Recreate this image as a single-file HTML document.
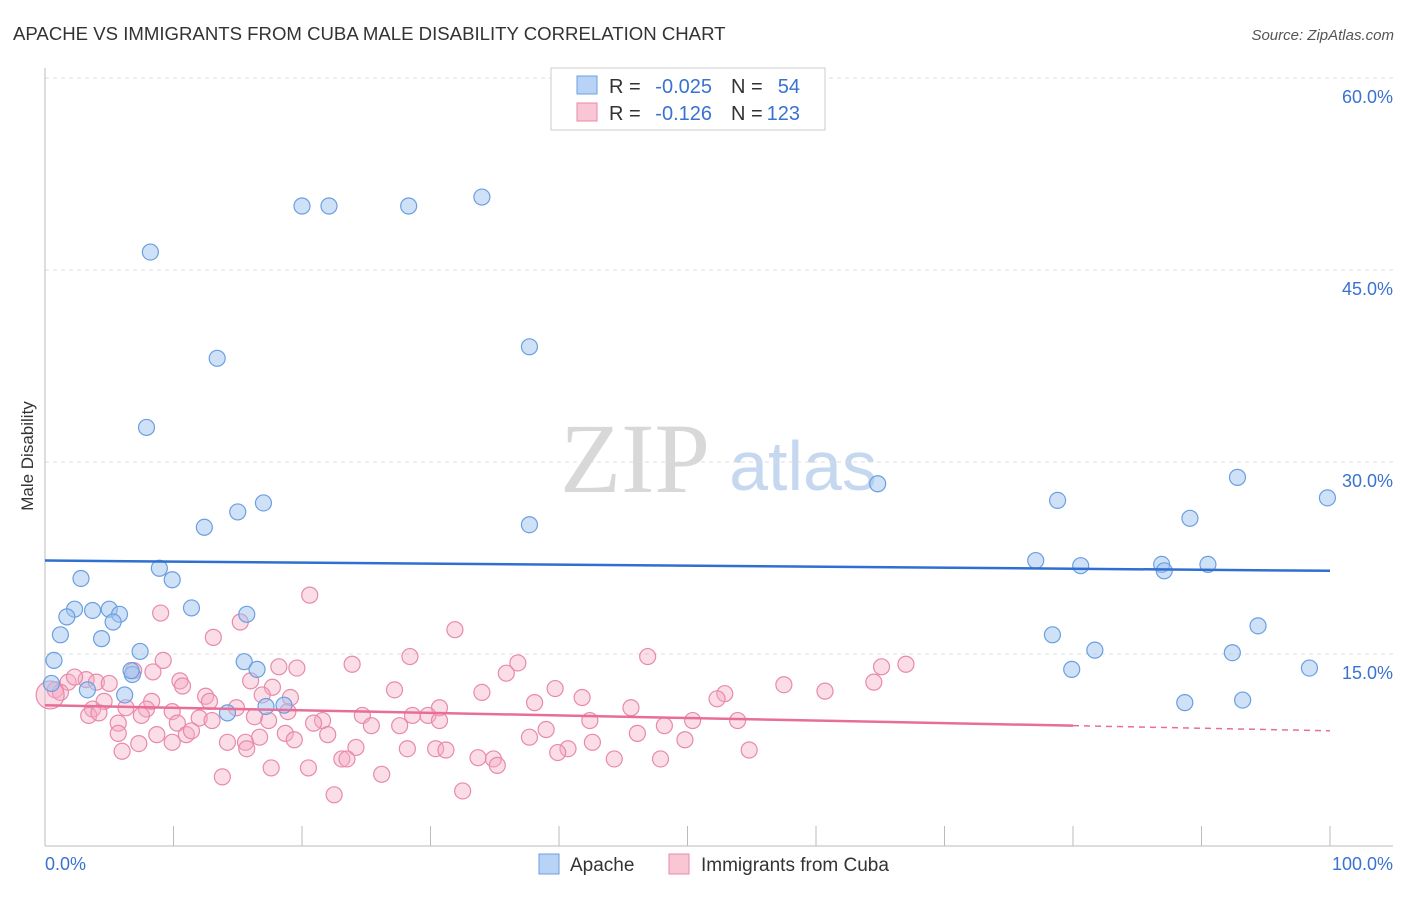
<!DOCTYPE html>
<html><head><meta charset="utf-8"><style>
body{margin:0;background:#fff;font-family:"Liberation Sans",sans-serif;}
svg text{font-family:"Liberation Sans",sans-serif;}
</style></head><body>
<svg id="c" width="1406" height="892" xmlns="http://www.w3.org/2000/svg">
<text x="13" y="40" font-size="18.6" fill="#333">APACHE VS IMMIGRANTS FROM CUBA MALE DISABILITY CORRELATION CHART</text>
<text x="1394" y="40" font-size="15" fill="#555" text-anchor="end" font-style="italic">Source: ZipAtlas.com</text>
<text x="33" y="456" font-size="17" fill="#333" transform="rotate(-90 33 456)" text-anchor="middle">Male Disability</text>
<g>
<text x="635" y="492" font-size="100" fill="#d8d8d8" style="font-family:'Liberation Serif',serif" text-anchor="middle">ZIP</text>
<text x="803" y="490" font-size="70" fill="#c5d8f0" text-anchor="middle">atlas</text></g>
<g id="grid"></g><g id="pts"></g><g id="lines"></g>
<g>
<rect x="551" y="68" width="274" height="62" fill="#fff" stroke="#ccc"/>
<rect x="577" y="76" width="20" height="18" fill="#b8d3f5" stroke="#6a9fe0"/>
<rect x="577" y="103" width="20" height="18" fill="#f9c6d6" stroke="#e88aaa"/>
<text x="609" y="93" font-size="20" fill="#333">R =</text>
<text x="712" y="93" font-size="20" fill="#3a72d0" text-anchor="end">-0.025</text>
<text x="731" y="93" font-size="20" fill="#333">N =</text>
<text x="800" y="93" font-size="20" fill="#3a72d0" text-anchor="end">54</text>
<text x="609" y="120" font-size="20" fill="#333">R =</text>
<text x="712" y="120" font-size="20" fill="#3a72d0" text-anchor="end">-0.126</text>
<text x="731" y="120" font-size="20" fill="#333">N =</text>
<text x="800" y="120" font-size="20" fill="#3a72d0" text-anchor="end">123</text>
</g>
<g>
<rect x="539" y="854" width="20" height="20" fill="#b8d3f5" stroke="#6a9fe0"/>
<text x="570" y="871" font-size="19" fill="#333">Apache</text>
<rect x="669" y="854" width="20" height="20" fill="#f9c6d6" stroke="#e88aaa"/>
<text x="701" y="871" font-size="19" fill="#333">Immigrants from Cuba</text>
</g>
<text x="45" y="870" font-size="18" fill="#3a72d0">0.0%</text>
<text x="1393" y="870" font-size="18" fill="#3a72d0" text-anchor="end">100.0%</text>
</svg>
<script>
const yTicks=[15,30,45,60];
const yTickLabels=["15.0%","30.0%","45.0%","60.0%"];
const xTicks=[0,10,20,30,40,50,60,70,80,90,100];
const apacheX=[8.2,20,22.1,28.3,34,13.4,37.7,7.9,17,15,12.4,37.7,64.8,78.8,92.8,99.8,89.1,77.1,80.6,86.9,87.1,90.5,8.9,9.9,2.8,2.3,3.7,5,1.7,5.8,5.3,11.4,15.7,1.2,4.4,7.4,0.7,15.5,16.5,6.8,6.7,0.5,3.3,6.2,14.2,17.2,18.6,78.4,81.7,94.4,92.4,79.9,98.4,88.7,93.2];
const apacheY=[46.4,50,50,50,50.7,38.1,39,32.7,26.8,26.1,24.9,25.1,28.3,27,28.8,27.2,25.6,22.3,21.9,22,21.5,22,21.7,20.8,20.9,18.5,18.4,18.5,17.9,18.1,17.5,18.6,18.1,16.5,16.2,15.2,14.5,14.4,13.8,13.4,13.7,12.7,12.2,11.8,10.4,10.9,11,16.5,15.3,17.2,15.1,13.8,13.9,11.2,11.4];
const cubaX=[20.6,9,15.2,31.9,13.1,28.4,46.9,36.8,23.9,18.2,19.6,65.1,67,35.9,9.2,6.9,8.4,10.5,10.7,3.2,1.8,2.3,4,5,0.8,1.2,16,17.7,27.2,34,39.7,41.8,57.5,60.7,64.5,52.9,52.3,45.6,38.1,30.7,28.6,24.7,21.6,19.1,16.9,12.5,12.8,14.9,8.3,7.9,6.3,4.6,3.7,3.4,4.2,9.9,12,7.5,5.7,17.4,16.3,18.9,20.9,18.7,16.7,13,10.3,11,8.7,9.9,11.4,14.2,15.6,15.7,19.4,22,25.4,27.6,29.8,30.7,42.4,48.2,50.4,53.9,46.1,39,37.7,49.8,54.8,42.6,40.7,39.9,33.7,34.9,30.4,31.2,28.2,24.2,23.1,23.5,5.7,6,7.3,26.2,13.8,17.6,20.5,22.5,32.5,35.2,44.3,47.9,0.4];
const cubaY=[19.6,18.2,17.5,16.9,16.3,14.8,14.8,14.3,14.2,14,13.9,14,14.2,13.5,14.5,13.7,13.6,12.9,12.5,13,12.8,13.2,12.8,12.7,12.2,12,12.9,12.4,12.2,12,12.3,11.6,12.6,12.1,12.8,11.9,11.5,10.8,11.2,10.8,10.2,10.2,9.8,11.6,11.8,11.7,11.3,10.8,11.3,10.7,10.8,11.3,10.7,10.2,10.4,10.5,10,10.2,9.6,9.8,10.1,10.5,9.6,8.8,8.5,9.8,9.6,8.7,8.7,8.1,9,8.1,8.1,7.6,8.3,8.7,9.4,9.4,10.2,9.8,9.8,9.4,9.8,9.8,8.8,9.1,8.5,8.3,7.5,8.1,7.6,7.3,6.9,6.8,7.6,7.5,7.6,7.7,6.8,6.8,8.8,7.4,8,5.6,5.4,6.1,6.1,4,4.3,6.3,6.8,6.8,11.8];
const X=v=>45+v*12.85, Y=v=>846-v*12.8;
const NS="http://www.w3.org/2000/svg";
function mk(t,a,p){const e=document.createElementNS(NS,t);for(const k in a)e.setAttribute(k,a[k]);p.appendChild(e);return e;}
const g=document.getElementById('grid');
yTicks.forEach((t,i)=>{const l=mk('line',{x1:45,x2:1393,y1:Y(t),y2:Y(t),stroke:'#ddd','stroke-dasharray':'4 4'},g);


const tx=mk('text',{x:1393,y:Y(t)+25,'font-size':18,fill:'#3a72d0','text-anchor':'end'},g);tx.textContent=yTickLabels[i];

});
const ax=mk('line',{x1:45,x2:45,y1:68,y2:846,stroke:'#bbb'},g);


const bx=mk('line',{x1:45,x2:1393,y1:846,y2:846,stroke:'#bbb'},g);


xTicks.forEach(t=>{const l=mk('line',{x1:X(t),x2:X(t),y1:826,y2:846,stroke:'#bbb'},g);

});
const p=document.getElementById('pts');
cubaX.forEach((x,i)=>{const c=mk('circle',{cx:X(x),cy:Y(cubaY[i]),r:i==cubaX.length-1?14:8,fill:'rgba(245,170,195,0.4)',stroke:'#e88aaa','stroke-width':1.2},p);

});
apacheX.forEach((x,i)=>{const c=mk('circle',{cx:X(x),cy:Y(apacheY[i]),r:8,fill:'rgba(160,196,240,0.5)',stroke:'#6a9fe0','stroke-width':1.2},p);

});
const L=document.getElementById('lines');
const b=mk('line',{x1:X(0),y1:Y(22.3),x2:X(100),y2:Y(21.5),stroke:'#2f6fd0','stroke-width':2.5},L);


const r=mk('line',{x1:X(0),y1:Y(11.0),x2:X(80),y2:Y(9.4),stroke:'#e86e98','stroke-width':2.5},L);


const r2=mk('line',{x1:X(80),y1:Y(9.4),x2:X(100),y2:Y(9.0),stroke:'#e86e98','stroke-width':1.5,'stroke-dasharray':'6 5'},L);


</script>
</body></html>
